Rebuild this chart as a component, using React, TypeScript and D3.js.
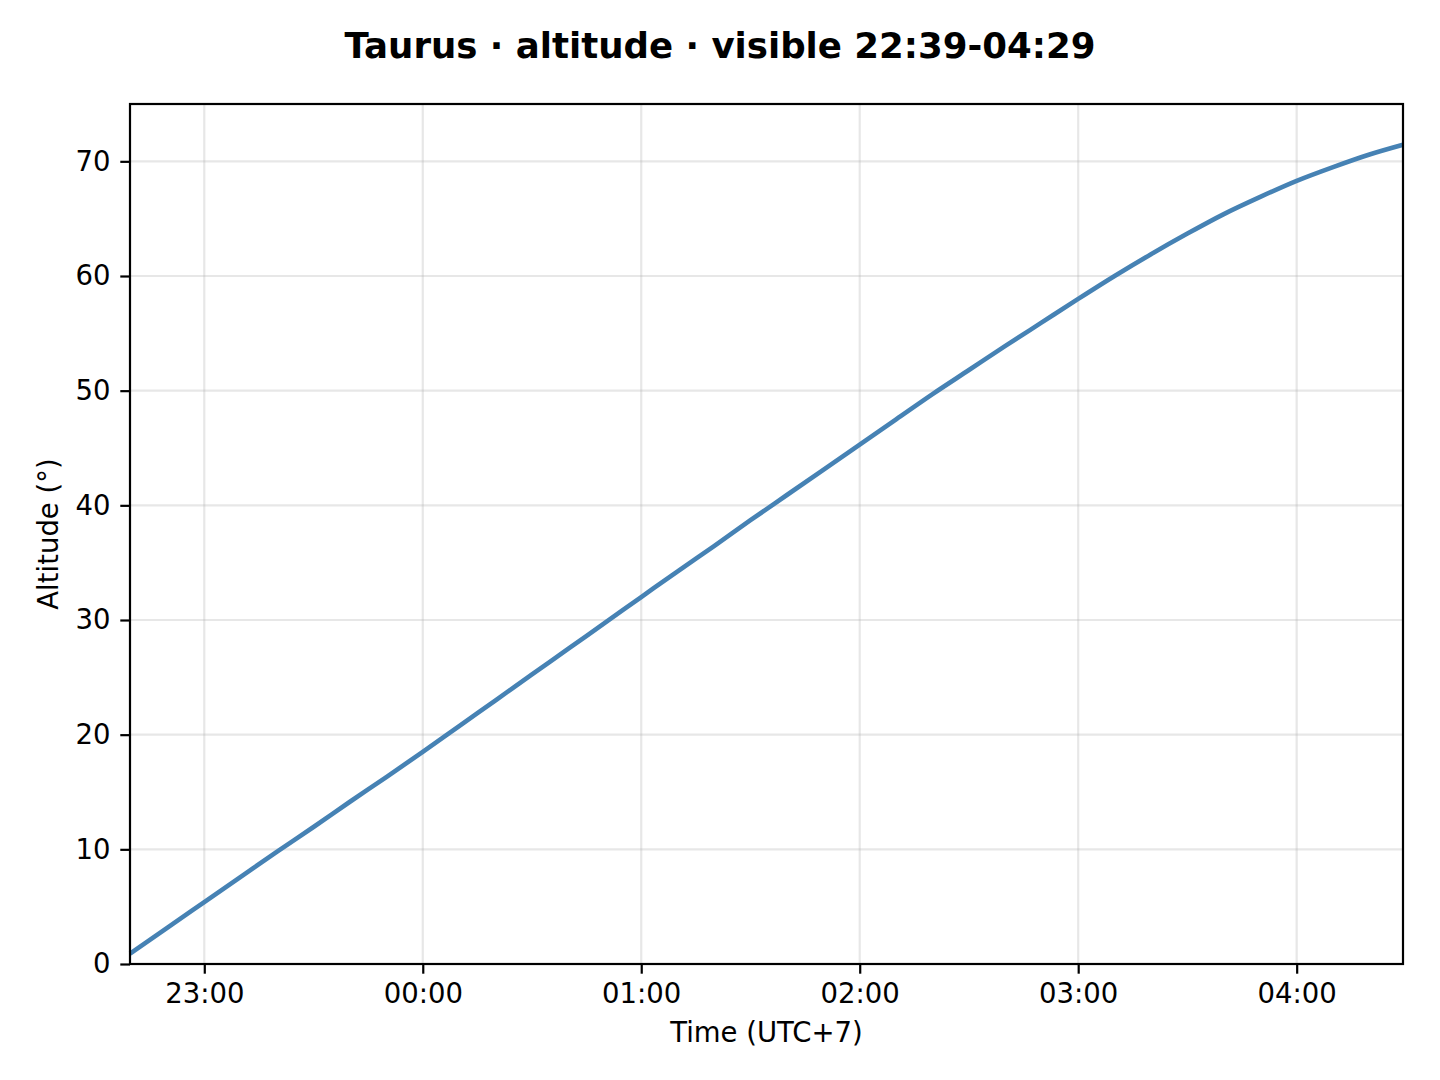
import React, { useEffect, useRef } from "react";
import * as d3 from "d3";

const WIDTH = 1440;
const HEIGHT = 1080;
const MARGINS = { LEFT: 130, RIGHT: 37, TOP: 104, BOTTOM: 116 };
const FONT = "'DejaVu Sans', sans-serif";

const TITLE = "Taurus · altitude · visible 22:39-04:29";
const X_LABEL = "Time (UTC+7)";
const Y_LABEL = "Altitude (°)";

// sample times (local UTC+7) and altitude in degrees
const TIMES = [
  "22:39:36", "22:50", "23:00", "23:10", "23:20", "23:30", "23:40", "23:50",
  "00:00", "00:10", "00:20", "00:30", "00:40", "00:50",
  "01:00", "01:10", "01:20", "01:30", "01:40", "01:50",
  "02:00", "02:10", "02:20", "02:30", "02:40", "02:50",
  "03:00", "03:10", "03:20", "03:30", "03:40", "03:50",
  "04:00", "04:10", "04:20", "04:29:12",
];
const ALTITUDES = [
  0.9, 3.2, 5.4, 7.6, 9.8, 11.95, 14.15, 16.3,
  18.5, 20.75, 23.0, 25.25, 27.5, 29.75,
  32.0, 34.25, 36.45, 38.7, 40.9, 43.1,
  45.3, 47.5, 49.7, 51.8, 53.9, 55.95,
  58.0, 60.0, 61.9, 63.7, 65.4, 66.9,
  68.3, 69.5, 70.6, 71.45,
];
const Y_TICKS = [0, 10, 20, 30, 40, 50, 60, 70];
const Y_DOMAIN = [0, 75];

const toDate = (t: string) => {
  const [h, m, s] = t.split(":").map(Number);
  // times before noon belong to the next day
  const day = h < 12 ? 2 : 1;
  return new Date(2024, 0, day, h, m, s || 0);
};

const App: React.FC = () => {
  const xAxisRef = useRef<SVGGElement | null>(null);
  const yAxisRef = useRef<SVGGElement | null>(null);
  const chartGroupRef = useRef<SVGGElement | null>(null);

  const innerW = WIDTH - MARGINS.LEFT - MARGINS.RIGHT;
  const innerH = HEIGHT - MARGINS.TOP - MARGINS.BOTTOM;

  useEffect(() => {
    const data = TIMES.map((t, i) => ({ date: toDate(t), value: ALTITUDES[i] }));

    const xScale = d3
      .scaleTime()
      .domain(d3.extent(data, (d) => d.date) as [Date, Date])
      .range([0, innerW]);
    const yScale = d3.scaleLinear().domain(Y_DOMAIN).range([innerH, 0]);

    const xTicks = xScale.ticks(d3.timeHour.every(1) as any);

    const g = d3.select(chartGroupRef.current);
    g.selectAll("*").remove();

    // grid
    g.selectAll(".vgrid")
      .data(xTicks)
      .join("line")
      .attr("x1", (d) => xScale(d))
      .attr("x2", (d) => xScale(d))
      .attr("y1", 0)
      .attr("y2", innerH)
      .attr("stroke", "#b0b0b0")
      .attr("stroke-opacity", 0.3)
      .attr("stroke-width", 2.2);
    g.selectAll(".hgrid")
      .data(Y_TICKS)
      .join("line")
      .attr("x1", 0)
      .attr("x2", innerW)
      .attr("y1", (d) => yScale(d))
      .attr("y2", (d) => yScale(d))
      .attr("stroke", "#b0b0b0")
      .attr("stroke-opacity", 0.3)
      .attr("stroke-width", 2.2);

    const line = d3
      .line<{ date: Date; value: number }>()
      .x((d) => xScale(d.date))
      .y((d) => yScale(d.value))
      .curve(d3.curveMonotoneX);

    g.append("path")
      .datum(data)
      .attr("d", line)
      .attr("fill", "none")
      .attr("stroke", "#4682b4")
      .attr("stroke-width", 4.6)
      .attr("stroke-linejoin", "round");

    // frame
    g.append("rect")
      .attr("width", innerW)
      .attr("height", innerH)
      .attr("fill", "none")
      .attr("stroke", "#000")
      .attr("stroke-width", 2.2);

    const xAxis = d3
      .axisBottom(xScale)
      .tickValues(xTicks)
      .tickFormat(d3.timeFormat("%H:%M") as any)
      .tickSize(9.7)
      .tickPadding(9.7)
      .tickSizeOuter(0);
    const yAxis = d3
      .axisLeft(yScale)
      .tickValues(Y_TICKS)
      .tickSize(9.7)
      .tickPadding(9.7)
      .tickSizeOuter(0);

    const styleAxis = (sel: any) => {
      sel.select(".domain").remove();
      sel.selectAll(".tick line").attr("stroke", "#000").attr("stroke-width", 2.2);
      sel
        .selectAll(".tick text")
        .attr("fill", "#000")
        .style("font-family", FONT)
        .style("font-size", "27.5px");
    };

    d3.select(xAxisRef.current).call(xAxis as any).call(styleAxis);
    d3.select(yAxisRef.current).call(yAxis as any).call(styleAxis);
  }, []);

  return (
    <div style={{ position: "absolute", left: 0, top: 0 }}>
      <svg width={WIDTH} height={HEIGHT} style={{ display: "block", background: "#fff" }}>
        <text
          x={WIDTH / 2}
          y={58}
          textAnchor="middle"
          fontFamily={FONT}
          fontWeight="bold"
          fontSize={35.6}
        >
          {TITLE}
        </text>
        <g ref={chartGroupRef} transform={`translate(${MARGINS.LEFT}, ${MARGINS.TOP})`} />
        <g ref={xAxisRef} transform={`translate(${MARGINS.LEFT}, ${HEIGHT - MARGINS.BOTTOM})`} />
        <g ref={yAxisRef} transform={`translate(${MARGINS.LEFT}, ${MARGINS.TOP})`} />
        <text
          x={MARGINS.LEFT + innerW / 2}
          y={1042}
          textAnchor="middle"
          fontFamily={FONT}
          fontSize={27.5}
        >
          {X_LABEL}
        </text>
        <text
          transform={`translate(58, ${MARGINS.TOP + innerH / 2}) rotate(-90)`}
          textAnchor="middle"
          fontFamily={FONT}
          fontSize={27.5}
        >
          {Y_LABEL}
        </text>
      </svg>
    </div>
  );
};

export default App;
